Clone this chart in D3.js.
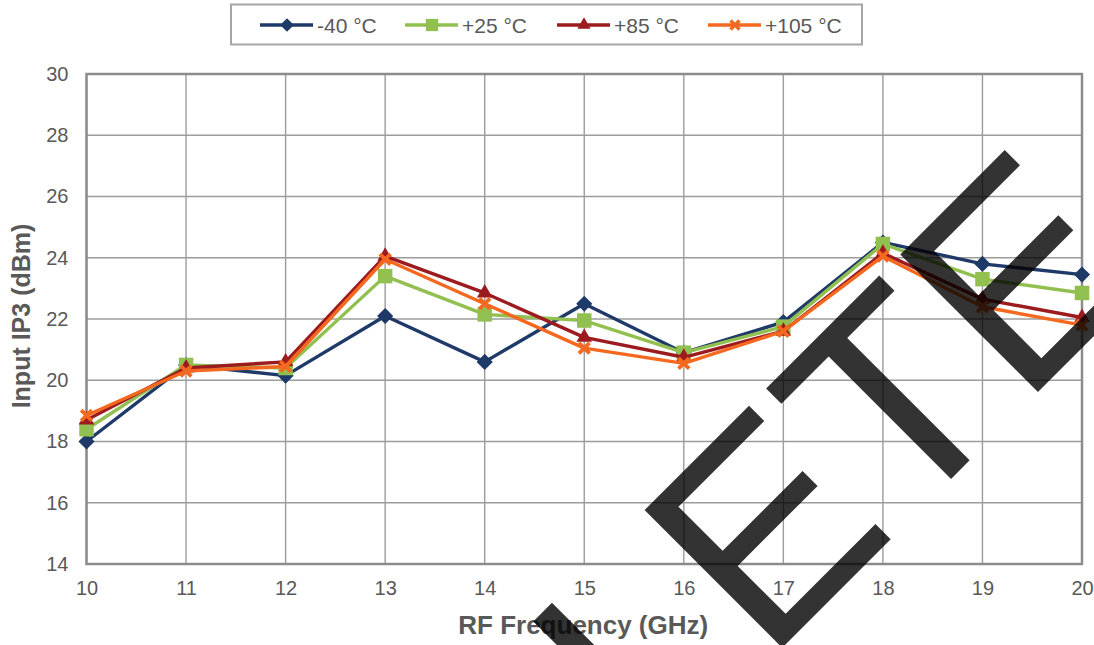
<!DOCTYPE html>
<html>
<head>
<meta charset="utf-8">
<script src="https://cdn.jsdelivr.net/npm/d3@7"></script>
<style>
  html, body { margin: 0; padding: 0; background: #ffffff; }
  svg { display: block; }
</style>
</head>
<body>
<svg id="chart" width="1094" height="645"></svg>
<script>
// Input IP3 versus RF frequency at four temperatures
const freqs = [10, 11, 12, 13, 14, 15, 16, 17, 18, 19, 20];
const yTicks = [14, 16, 18, 20, 22, 24, 26, 28, 30];
const seriesNames = ["-40 °C", "+25 °C", "+85 °C", "+105 °C"];
const seriesColors = ["#1f3a68", "#92c050", "#9b1b1f", "#f5681f"];
const seriesMarkers = ["diamond", "square", "triangle", "x"];

const iip3Minus40 = [18.0, 20.5, 20.15, 22.1, 20.6, 22.5, 20.9, 21.9, 24.5, 23.8, 23.45];
const iip3Plus25 = [18.4, 20.5, 20.4, 23.4, 22.15, 21.95, 20.9, 21.75, 24.45, 23.3, 22.85];
const iip3Plus85 = [18.7, 20.4, 20.6, 24.05, 22.85, 21.4, 20.75, 21.6, 24.15, 22.65, 22.05];
const iip3Plus105 = [18.85, 20.3, 20.45, 23.95, 22.5, 21.05, 20.55, 21.6, 24.05, 22.4, 21.8];

const seriesValues = [iip3Minus40, iip3Plus25, iip3Plus85, iip3Plus105];

const xTitle = "RF Frequency (GHz)";
const yTitle = "Input IP3 (dBm)";
const stampText = "OBSOLETE";

const svg = d3.select("#chart");
const font = "'Liberation Sans', Arial, sans-serif";
const textGray = "#595959";

const plot = { left: 86.5, right: 1082, top: 74, bottom: 564 };

const x = d3.scaleLinear().domain([10, 20]).range([plot.left, plot.right]);
const y = d3.scaleLinear().domain([14, 30]).range([plot.bottom, plot.top]);

// gridlines
const grid = svg.append("g");
grid.selectAll("line.h").data(yTicks).join("line")
  .attr("x1", plot.left).attr("x2", plot.right)
  .attr("y1", d => y(d)).attr("y2", d => y(d))
  .attr("stroke", "#9c9c9c").attr("stroke-width", 1.4);
grid.selectAll("line.v").data(freqs).join("line")
  .attr("y1", plot.top).attr("y2", plot.bottom)
  .attr("x1", d => x(d)).attr("x2", d => x(d))
  .attr("stroke", "#9c9c9c").attr("stroke-width", 1.4);

// plot frame
svg.append("rect")
  .attr("x", plot.left).attr("y", plot.top)
  .attr("width", plot.right - plot.left).attr("height", plot.bottom - plot.top)
  .attr("fill", "none").attr("stroke", "#8c8c8c").attr("stroke-width", 2.5);

// axes (labels only, lines come from the grid/frame)
const yAxis = d3.axisLeft(y).tickValues(yTicks).tickSize(0).tickPadding(18);
svg.append("g").attr("transform", `translate(${plot.left},0)`).call(yAxis)
  .call(g => g.select(".domain").remove())
  .call(g => g.selectAll("text").attr("font-family", font).attr("font-size", 20)
    .attr("fill", textGray));

const xAxis = d3.axisBottom(x).tickValues(freqs).tickSize(0).tickPadding(17);
svg.append("g").attr("transform", `translate(0,${plot.bottom})`).call(xAxis)
  .call(g => g.select(".domain").remove())
  .call(g => g.selectAll("text").attr("font-family", font).attr("font-size", 20)
    .attr("fill", textGray));

// axis titles
svg.append("text")
  .attr("x", (plot.left + plot.right) / 2 - 1).attr("y", 634)
  .attr("text-anchor", "middle")
  .attr("font-family", font).attr("font-size", 26).attr("font-weight", "bold")
  .attr("fill", textGray).text(xTitle);

svg.append("text")
  .attr("transform", `translate(30,316) rotate(-90)`)
  .attr("text-anchor", "middle")
  .attr("font-family", font).attr("font-size", 25).attr("font-weight", "bold")
  .attr("fill", textGray).text(yTitle);

// marker shapes
function markerPath(kind, scale) {
  if (kind === "diamond") return d3.symbol(d3.symbolSquare, 130 * scale * scale)();
  if (kind === "square") return d3.symbol(d3.symbolSquare, 210 * scale * scale)();
  if (kind === "triangle") return d3.symbol(d3.symbolTriangle, 105 * scale * scale)();
  return d3.symbol(d3.symbolX, 75 * scale * scale)();
}
function addMarker(parent, kind, color, scale, width) {
  const path = parent.append("path").attr("d", markerPath(kind, scale));
  if (kind === "diamond") path.attr("transform", "rotate(45)");
  if (kind === "x") {
    path.attr("fill", "none").attr("stroke", color).attr("stroke-width", width);
  } else {
    path.attr("fill", color);
  }
}

// series
const line = d3.line().x(d => x(d.f)).y(d => y(d.v));
seriesValues.forEach((vals, i) => {
  const pts = freqs.map((f, k) => ({ f, v: vals[k] }));
  const g = svg.append("g");
  g.append("path").datum(pts).attr("d", line)
    .attr("fill", "none").attr("stroke", seriesColors[i])
    .attr("stroke-width", 3.4).attr("stroke-linejoin", "round");
  pts.forEach(p => {
    const m = g.append("g").attr("transform", `translate(${x(p.f)},${y(p.v)})`);
    addMarker(m, seriesMarkers[i], seriesColors[i], 1, 3.8);
  });
});

// legend
const legend = svg.append("g");
legend.append("rect")
  .attr("x", 231).attr("y", 4.5).attr("width", 631).attr("height", 40)
  .attr("fill", "#ffffff").attr("stroke", "#a6a6a6").attr("stroke-width", 2);
const legendStarts = [260, 405, 557, 708];
seriesNames.forEach((name, i) => {
  const x0 = legendStarts[i];
  const g = legend.append("g").attr("transform", `translate(${x0},25)`);
  g.append("line").attr("x1", 0).attr("x2", 53).attr("y1", 0).attr("y2", 0)
    .attr("stroke", seriesColors[i]).attr("stroke-width", 3.6);
  const m = g.append("g").attr("transform", "translate(27,0)");
  addMarker(m, seriesMarkers[i], seriesColors[i], 0.85, 3.3);
  g.append("text").attr("x", 57).attr("y", 8)
    .attr("font-family", font).attr("font-size", 21).attr("fill", textGray)
    .text(name);
});

// diagonal status stamp across the plot
svg.append("text")
  .attr("transform", "translate(1155,275) rotate(-45)")
  .attr("text-anchor", "end")
  .attr("font-family", font).attr("font-size", 283)
  .attr("fill", "#000000").attr("fill-opacity", 0.8)
  .text(stampText);
</script>
</body>
</html>
